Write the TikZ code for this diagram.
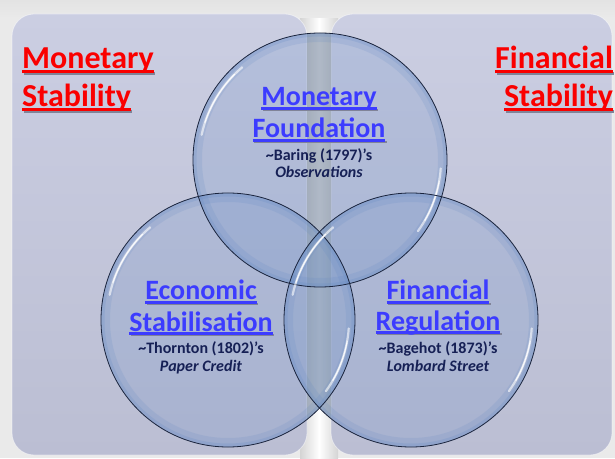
\documentclass[tikz,border=0pt]{standalone}
\usepackage{fontspec}
\setmainfont{Carlito}
\definecolor{bgray}{RGB}{234,234,234}
\definecolor{gapedge}{RGB}{212,212,212}
\definecolor{panelA}{RGB}{203,206,226}
\definecolor{panelB}{RGB}{187,190,211}
\definecolor{stripeA}{RGB}{182,184,187}
\definecolor{stripeB}{RGB}{196,198,200}
\definecolor{glass}{RGB}{95,135,195}
\definecolor{rim}{RGB}{25,35,60}
\definecolor{headred}{RGB}{250,0,0}
\definecolor{headblue}{RGB}{60,60,255}
\definecolor{subnavy}{RGB}{22,32,85}
\definecolor{shadowc}{RGB}{128,131,152}
\newlength\ulwidth
\newcommand\ulword[1]{\settowidth{\ulwidth}{#1}%
  \rlap{\kern1.5pt\rule[-0.19em]{\ulwidth}{0.085em}}%
  \rlap{\color{.}\rule[-0.13em]{\ulwidth}{0.085em}}#1}
\newcommand\ulshadow[1]{{\color{shadowc}#1}}
\tikzset{
  panel/.style={rounded corners=22pt, top color=panelA, bottom color=panelB, draw=white, draw opacity=0.5, line width=0.8pt},
  glassfill/.style={fill=glass, fill opacity=0.2},
  rimline/.style={draw=rim, line width=0.8pt},
  hl/.style={draw=white, line cap=round, line width=2.2pt, opacity=0.6},
  hlcore/.style={draw=white, line cap=round, line width=1pt, opacity=0.9},
  redhead/.style={font=\fontsize{32}{36}\selectfont\bfseries, text=headred, inner sep=0pt},
  bluehead/.style={font=\fontsize{28}{32}\selectfont\bfseries, text=headblue, inner sep=0pt},
  subtext/.style={font=\fontsize{16}{18}\selectfont\bfseries, text=subnavy, inner sep=0pt},
}
% underline with a soft shadow rule below it
\renewcommand\ulword[1]{\settowidth{\ulwidth}{#1}%
  \rlap{\kern1.5pt{\color{shadowc}\rule[-0.19em]{\ulwidth}{0.085em}}}%
  \rlap{\rule[-0.13em]{\ulwidth}{0.085em}}#1}
\begin{document}
\begin{tikzpicture}[x=1pt, y=1pt]
\useasboundingbox (0,0) rectangle (615,458);
% background
\fill[bgray] (0,0) rectangle (615,458);
\shade[left color=gapedge, right color=gapedge, middle color=white] (300,0) rectangle (338,458);
\shade[top color=gray!22, bottom color=bgray] (0,458) rectangle (615,440);
% panels
\path[panel] (12,3) rectangle (307,444);
\path[panel] (331,3) rectangle (612,444);
% circle centres
\coordinate (ctop) at (320,298);
\coordinate (cleft) at (228,138);
\coordinate (cright) at (411,138);
% stripe seen through circles
\begin{scope}
  \clip (ctop) circle (127) (cleft) circle (127) (cright) circle (127);
  \shade[left color=stripeA, right color=stripeA, middle color=stripeB] (307,0) rectangle (331,458);
\end{scope}
% glass fills and rims
\foreach \c in {ctop,cleft,cright}{
  \fill[glassfill] (\c) circle (127);
  \begin{scope}
    \clip (\c) circle (127);
    \draw[glass, opacity=0.16, line width=18pt] (\c) circle (127);
    \draw[glass, opacity=0.2, line width=7pt] (\c) circle (127);
  \end{scope}
}
\foreach \c in {ctop,cleft,cright}{
  \draw[rimline] (\c) circle (127);
  \draw[hl] ([shift={(130:121)}]\c) arc[start angle=130, end angle=168, radius=121];
  \draw[hlcore] ([shift={(135:121)}]\c) arc[start angle=135, end angle=162, radius=121];
  \draw[hl] ([shift={(-36:121)}]\c) arc[start angle=-36, end angle=-4, radius=121];
  \draw[hlcore] ([shift={(-30:121)}]\c) arc[start angle=-30, end angle=-10, radius=121];
}
% headings
\node[redhead, anchor=base west] (ms1) at (22,389) {\ulword{Monetary}};
\node[redhead, anchor=base west] (ms2) at (22,351) {\ulword{Stability}};
\node[redhead, anchor=base east] (fs1) at (613,389) {\ulword{Financial}};
\node[redhead, anchor=base east] (fs2) at (613,351) {\ulword{Stability}};
% top circle
\node[bluehead, anchor=base] (mf1) at (319,352) {\ulword{Monetary}};
\node[bluehead, anchor=base] (mf2) at (319,320) {\ulword{Foundation}};
\node[subtext, anchor=base] (mf3) at (319,297) {\textasciitilde Baring (1797)’s};
\node[subtext, anchor=base] (mf4) at (319,280) {\itshape Observations};
% left circle
\node[bluehead, anchor=base] (es1) at (201,158) {\ulword{Economic}};
\node[bluehead, anchor=base] (es2) at (201,127) {\ulword{Stabilisation}};
\node[subtext, anchor=base] (es3) at (201,105) {\textasciitilde Thornton (1802)’s};
\node[subtext, anchor=base] (es4) at (201,87) {\itshape Paper Credit};
% right circle
\node[bluehead, anchor=base] (fr1) at (438,158) {\ulword{Financial}};
\node[bluehead, anchor=base] (fr2) at (438,128) {\ulword{Regulation}};
\node[subtext, anchor=base] (fr3) at (438,105) {\textasciitilde Bagehot (1873)’s};
\node[subtext, anchor=base] (fr4) at (438,87) {\itshape Lombard Street};
\end{tikzpicture}
\end{document}
